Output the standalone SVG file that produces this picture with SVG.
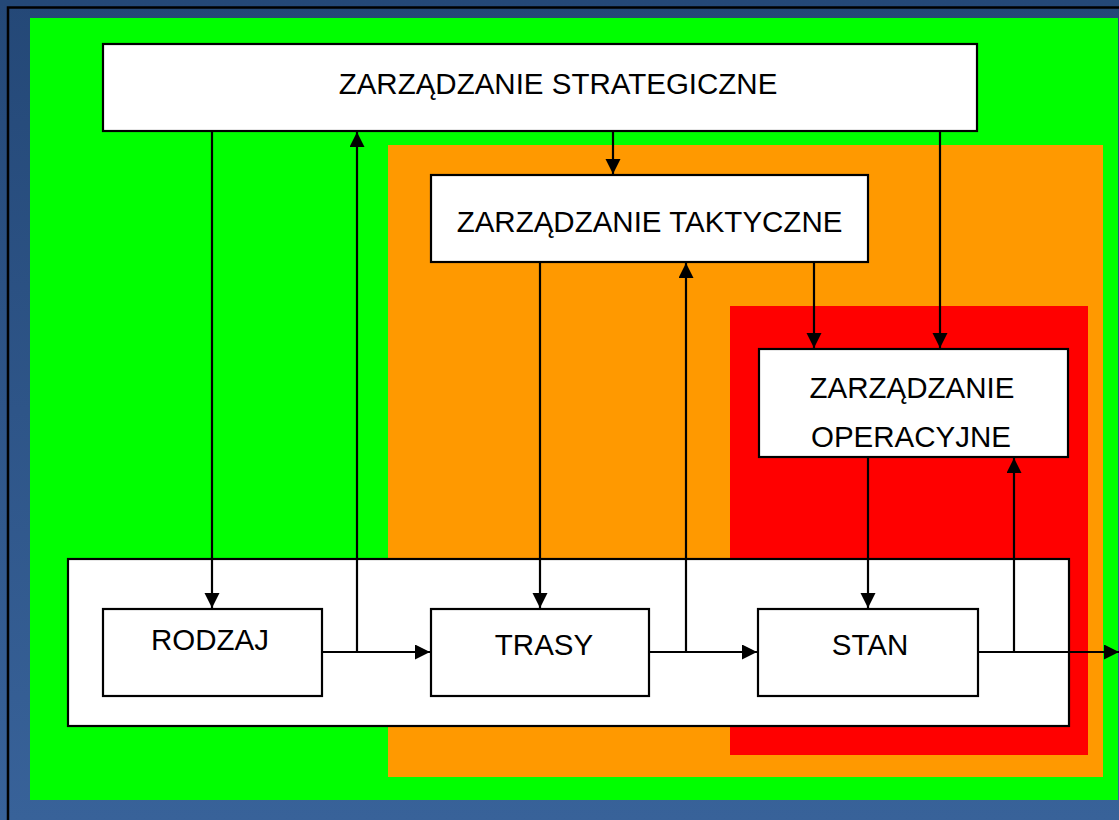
<svg xmlns="http://www.w3.org/2000/svg" width="1119" height="820" viewBox="0 0 1119 820">
<defs>
<linearGradient id="bg" x1="0" y1="0" x2="0" y2="1">
<stop offset="0" stop-color="#244877"/>
<stop offset="1" stop-color="#386299"/>
</linearGradient>
<marker id="ah" markerUnits="userSpaceOnUse" markerWidth="16" markerHeight="16" refX="15" refY="7.5" orient="auto">
<path d="M0,0 L15,7.5 L0,15 z" fill="#000"/>
</marker>
<style>
.box{fill:#fff;stroke:#000;stroke-width:2.2}
.lbl{font-family:"Liberation Sans",Arial,sans-serif;font-size:29.5px;fill:#000;text-anchor:middle}
.c{fill:none;stroke:#000;stroke-width:2.2}
.a{marker-end:url(#ah)}
</style>
</defs>
<rect x="0" y="0" width="1119" height="820" fill="url(#bg)"/>
<path d="M8,820 V7.5 H1119" fill="none" stroke="#000" stroke-width="2.5"/>
<rect x="30" y="18" width="1088" height="782" fill="#00ff00"/>
<rect x="388" y="145" width="715" height="632" fill="#ff9900"/>
<rect x="730" y="306" width="358" height="449" fill="#ff0000"/>

<g id="strategic">
<rect class="box" x="103" y="44" width="874" height="87"/>
<text class="lbl" x="558" y="94">ZARZĄDZANIE STRATEGICZNE</text>
</g>
<g id="tactical">
<rect class="box" x="431" y="175" width="437" height="87"/>
<text class="lbl" x="649.5" y="232">ZARZĄDZANIE TAKTYCZNE</text>
</g>
<g id="operational">
<rect class="box" x="759" y="349" width="309" height="108"/>
<text class="lbl" x="912" y="398">ZARZĄDZANIE</text>
<text class="lbl" x="911" y="447">OPERACYJNE</text>
</g>
<g id="process">
<rect class="box" x="68" y="559" width="1001" height="167"/>
</g>
<g id="rodzaj">
<rect class="box" x="103" y="609" width="219" height="87"/>
<text class="lbl" x="210" y="650">RODZAJ</text>
</g>
<g id="trasy">
<rect class="box" x="431" y="609" width="218" height="87"/>
<text class="lbl" x="544" y="655">TRASY</text>
</g>
<g id="stan">
<rect class="box" x="758" y="609" width="220" height="87"/>
<text class="lbl" x="870" y="655">STAN</text>
</g>

<g id="connectors">
<path class="c a" d="M212,131 V608"/>
<path class="c a" d="M357,652 V132"/>
<path class="c a" d="M322,652 H430"/>
<path class="c a" d="M613,131 V174"/>
<path class="c a" d="M940,131 V348"/>
<path class="c a" d="M540,262 V608"/>
<path class="c a" d="M686,652 V263"/>
<path class="c a" d="M649,652 H757"/>
<path class="c a" d="M814,262 V348"/>
<path class="c a" d="M868,457 V608"/>
<path class="c a" d="M1014,652 V458"/>
<path class="c a" d="M978,652 H1119"/>
</g>
</svg>
